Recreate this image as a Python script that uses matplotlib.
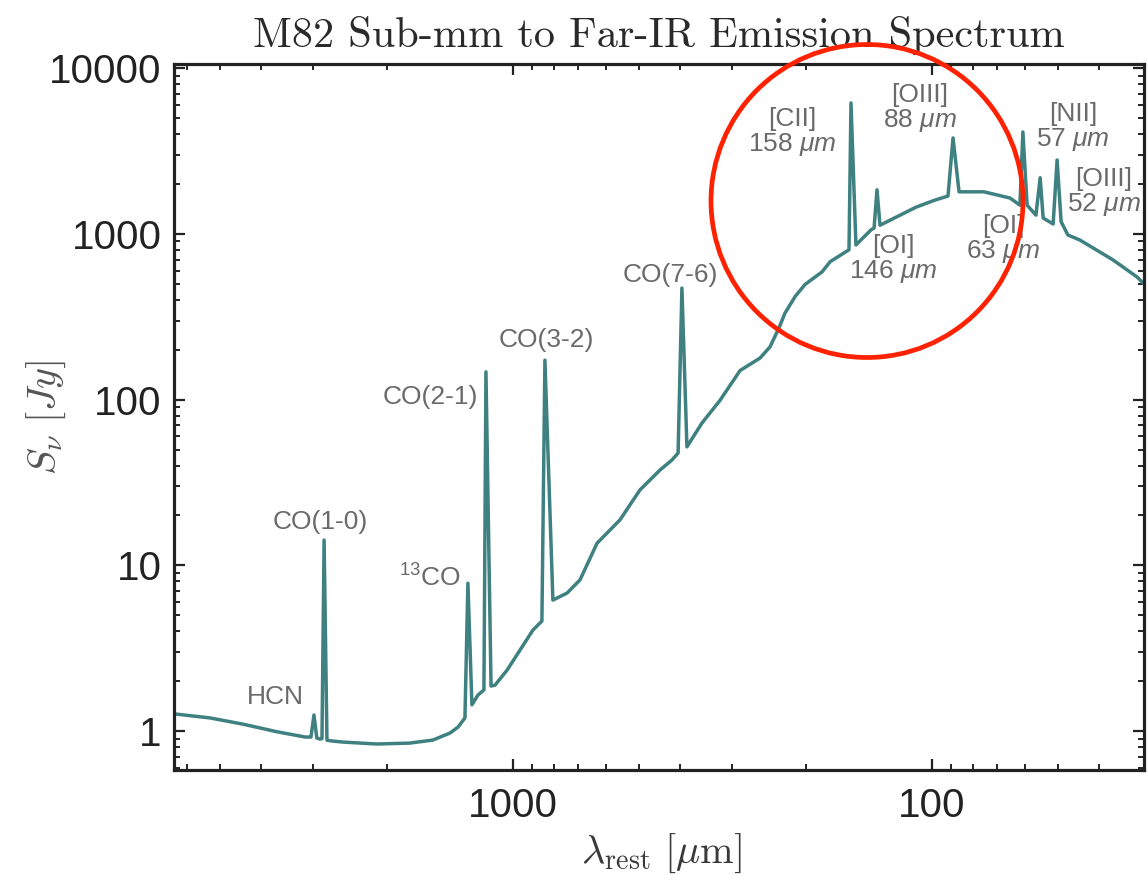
import matplotlib
matplotlib.use("Agg")
import matplotlib.pyplot as plt
from matplotlib.ticker import FuncFormatter, NullFormatter, LogLocator
from matplotlib.patches import Ellipse

plt.rcParams['font.family'] = ['Liberation Sans', 'DejaVu Sans']
plt.rcParams['mathtext.rm'] = 'Liberation Sans'
plt.rcParams['mathtext.it'] = 'Liberation Sans:italic'
plt.rcParams['mathtext.bf'] = 'Liberation Sans:bold'
plt.rcParams['mathtext.sf'] = 'Liberation Sans'

# ---- data: rest wavelength [micron] and flux density [Jy] ----
wavelength = [6442, 5284, 4406, 3656, 3133, 3034, 2985, 2938, 2890, 2856,
              2823, 2779, 2691, 2547, 2113, 1763, 1553, 1413, 1352, 1302,
              1281, 1253, 1212, 1173, 1160, 1128, 1104, 1033, 962, 896,
              853, 839, 803, 743, 692, 630, 555.5, 497.7, 445.8, 417.5,
              403.6, 395.2, 384.5, 354, 320.6, 287, 257.4, 243.6, 232, 224.3,
              212, 201, 183, 175, 157.8, 156.1, 151.9, 139.8,
              137.5, 135.3, 133.1, 109.2, 98.4, 91.6, 89.1, 86.2, 75.2, 65.1,
              61.7, 60.7, 59.3, 56.5, 55.2, 54.3, 51.4, 50.3, 49.2, 47.4,
              44.4, 37.0, 32.4, 30.5]
flux = [1.27, 1.20, 1.10, 0.99, 0.92, 0.92, 1.25, 0.907, 0.895, 0.90,
        14.2, 0.88, 0.87, 0.858, 0.835, 0.846, 0.882, 0.973, 1.057, 1.20,
        7.8, 1.44, 1.65, 1.77, 147, 1.87, 1.89, 2.33, 3.08, 4.07,
        4.61, 173, 6.17, 6.80, 8.16, 13.6, 18.8, 28.5, 37.6, 43.2,
        47.6, 471, 51.9, 72.2, 99, 150, 178, 208, 270, 333,
        420, 495, 590, 680, 802, 6165, 858, 1058,
        1085, 1845, 1128, 1450, 1600, 1692, 3794, 1795, 1795, 1645,
        1490, 4121, 1490, 1298, 2182, 1247, 1148, 2792, 1186, 985,
        919, 697, 549, 471]

# line labels and where they sit (wavelength, flux)
line_labels = ["HCN", "CO(1-0)", "$^{13}$CO", "CO(2-1)", "CO(3-2)", "CO(7-6)",
               "[CII]\n158 $\\mu m$", "[OIII]\n88 $\\mu m$", "[OI]\n146 $\\mu m$",
               "[OI]\n63 $\\mu m$", "[NII]\n57 $\\mu m$", "[OIII]\n52 $\\mu m$"]
label_wl = [3698, 2888, 1578, 1578, 834, 422, 215.7, 106.8, 123.9, 67.7, 46.1, 38.9]
label_flux = [1.60, 18.3, 8.38, 103.7, 229, 565, 4064, 5674, 696, 919, 4417, 1766]

x_ticks = [1000, 100]
y_ticks = [1, 10, 100, 1000, 10000]

W, H = 1148, 875
fig = plt.figure(figsize=(W / 100, H / 100), dpi=100)
ax = fig.add_axes([174 / W, 105 / H, 970 / W, 706 / H])

line_color = '#3f8080'
ax.plot(wavelength, flux, color=line_color, lw=2.5, solid_joinstyle='round')

ax.set_xscale('log')
ax.set_yscale('log')
ax.set_xlim(6440, 31.2)
ax.set_ylim(0.582, 10600)

ax.set_xticks(x_ticks)
ax.set_yticks(y_ticks)
fmt = FuncFormatter(lambda v, p: f'{v:g}')
ax.xaxis.set_major_formatter(fmt)
ax.yaxis.set_major_formatter(fmt)
ax.xaxis.set_minor_locator(LogLocator(base=10, subs=range(2, 10), numticks=20))
ax.yaxis.set_minor_locator(LogLocator(base=10, subs=range(2, 10), numticks=20))
ax.xaxis.set_minor_formatter(NullFormatter())
ax.yaxis.set_minor_formatter(NullFormatter())

ax.tick_params(which='both', direction='in', top=True, right=True, colors='#222222')
ax.tick_params(which='major', length=8, width=1.6, labelsize=29)
ax.tick_params(which='minor', length=4, width=1.4)
ax.tick_params(axis='y', which='major', pad=9)
ax.tick_params(axis='x', which='major', pad=12)
for s in ax.spines.values():
    s.set_linewidth(2.3)
    s.set_color('#222222')

ax.set_title('M82 Sub-mm to Far-IR Emission Spectrum', family='cmr10',
             fontsize=30.5, color='#2a2a2a', pad=12)

ax.set_xlabel(r'$\lambda_{\rm rest}\ [\mu{\rm m}]$', fontsize=29, color='#3a3a3a',
              math_fontfamily='cm')
ax.xaxis.set_label_coords((661 - 174) / 970, (770 - 832) / 706)
ax.set_ylabel(r'$S_\nu\ [Jy]$', fontsize=29, color='#555555', math_fontfamily='cm')
ax.yaxis.set_label_coords((68 - 174) / 970, (770 - 418) / 706)

for lab, lx, ly in zip(line_labels, label_wl, label_flux):
    ax.text(lx, ly, lab, ha='center', va='center', multialignment='center',
            fontsize=19, color='#6a6a6a', linespacing=1.0,
            math_fontfamily='custom')

circ = Ellipse((867 / W, 1 - 201 / H), 312 / W, 313 / H, transform=fig.transFigure,
               fill=False, edgecolor='#ff2200', lw=3.4, zorder=10, clip_on=False)
fig.patches.append(circ)

fig.savefig('out.png', dpi=100)
